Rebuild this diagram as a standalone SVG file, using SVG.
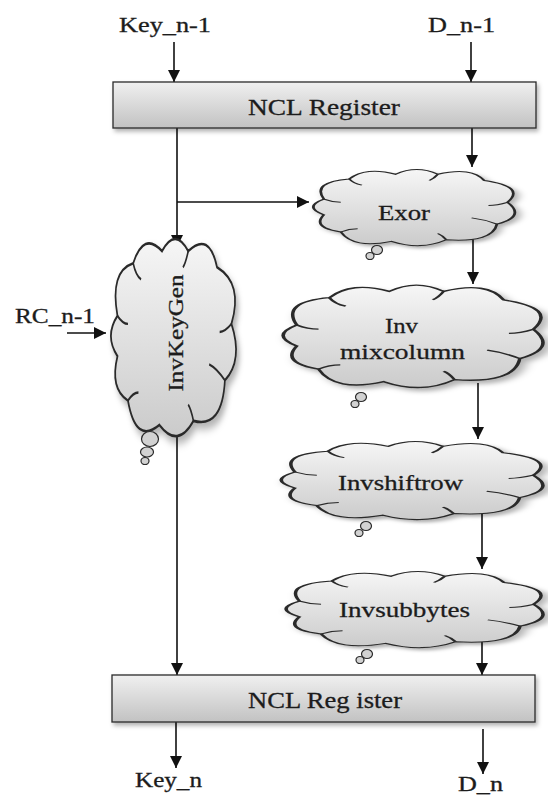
<svg xmlns="http://www.w3.org/2000/svg" width="548" height="796" viewBox="0 0 548 796">
  <defs>
    <linearGradient id="regFill" x1="0" y1="0" x2="0" y2="1">
      <stop offset="0" stop-color="#f0f0f0"/>
      <stop offset="1" stop-color="#c2c2c2"/>
    </linearGradient>
    <linearGradient id="cloudFill" x1="0" y1="0" x2="0" y2="1">
      <stop offset="0" stop-color="#f6f6f6"/>
      <stop offset="1" stop-color="#cbcbcb"/>
    </linearGradient>
    <filter id="shadow" x="-10%" y="-10%" width="130%" height="140%">
      <feDropShadow dx="2" dy="3" stdDeviation="2" flood-color="#000" flood-opacity="0.3"/>
    </filter>
    <marker id="arrow" viewBox="0 0 10 10" refX="10" refY="5" markerWidth="12" markerHeight="12" markerUnits="userSpaceOnUse" orient="auto">
      <path d="M0,0 L10,5 L0,10 Z" fill="#111"/>
    </marker>
    <!-- cloud outline in a 100x100 box; scaled per node -->
    <path id="cloud" d="M8,40 Q2,18 20,14 Q28,-2 42,8 Q52,-4 62,8 Q78,-2 84,16 Q104,24 95,44 Q104,62 90,72 Q88,96 66,92 Q54,106 40,94 Q22,104 16,82 Q2,76 8,60 Q-2,50 8,40 Z"/>
    <g id="creases">
      <path d="M8,40 Q12,44 16,44"/>
      <path d="M20,14 Q22,20 26,22"/>
      <path d="M62,8 Q60,14 58,16"/>
      <path d="M95,44 Q90,48 86,48"/>
      <path d="M90,72 Q84,66 78,64"/>
      <path d="M66,92 Q64,86 62,84"/>
      <path d="M16,82 Q20,78 24,78"/>
    </g>
  </defs>
  <style>
    .lbl { font-family: "Liberation Serif", "Times New Roman", serif; fill: #1c1c1c; stroke: #1c1c1c; stroke-width: 0.3; }
    .reg { fill: url(#regFill); stroke: #2a2a2a; stroke-width: 1.3; filter: url(#shadow); }
    .cl { fill: url(#cloudFill); stroke: #2a2a2a; stroke-width: 1.3; vector-effect: non-scaling-stroke; }
    .cr { fill: none; stroke: #2a2a2a; stroke-width: 1.2; vector-effect: non-scaling-stroke; }
    .bub { fill: #d2d2d2; stroke: #2a2a2a; stroke-width: 1.2; }
    .wire { fill: none; stroke: #111; stroke-width: 1.6; }
    .arr { marker-end: url(#arrow); }
  </style>

  <!-- connectors -->
  <g id="connectors">
    <line class="wire arr" x1="174" y1="42" x2="174" y2="82"/>
    <line class="wire arr" x1="471" y1="42" x2="471" y2="82"/>
    <line class="wire arr" x1="177" y1="128" x2="177" y2="247"/>
    <line class="wire arr" x1="177" y1="202" x2="309" y2="202"/>
    <line class="wire arr" x1="472" y1="128" x2="472" y2="167"/>
    <line class="wire arr" x1="473" y1="238" x2="473" y2="284"/>
    <line class="wire arr" x1="478" y1="383" x2="478" y2="439"/>
    <line class="wire arr" x1="482" y1="514" x2="482" y2="569"/>
    <line class="wire arr" x1="482" y1="640" x2="482" y2="675"/>
    <line class="wire arr" x1="177" y1="432" x2="177" y2="675"/>
    <line class="wire arr" x1="67" y1="333" x2="106" y2="333"/>
    <line class="wire arr" x1="176" y1="722" x2="176" y2="768"/>
    <line class="wire arr" x1="483" y1="729" x2="483" y2="774"/>
  </g>

  <!-- input labels -->
  <g id="inputs">
    <text class="lbl" x="119" y="32" font-size="20" textLength="92" lengthAdjust="spacingAndGlyphs">Key_n-1</text>
    <text class="lbl" x="428" y="32" font-size="20" textLength="67" lengthAdjust="spacingAndGlyphs">D_n-1</text>
    <text class="lbl" x="15" y="323" font-size="20" textLength="80" lengthAdjust="spacingAndGlyphs">RC_n-1</text>
  </g>

  <g id="reg-top">
    <rect class="reg" x="113" y="82" width="423" height="46"/>
    <text class="lbl" x="248" y="115" font-size="24" textLength="152" lengthAdjust="spacingAndGlyphs">NCL Register</text>
  </g>

  <g id="invkeygen">
    <g transform="translate(107,235) scale(1.31,2.02)">
      <use href="#cloud" class="cl" filter="url(#shadow)"/>
      <use href="#creases" class="cr"/>
    </g>
    <ellipse class="bub" cx="150" cy="439" rx="8.5" ry="7.5"/>
    <ellipse class="bub" cx="147" cy="452" rx="6.5" ry="5"/>
    <ellipse class="bub" cx="145" cy="461" rx="4" ry="3.5"/>
    <text class="lbl" transform="translate(183,333) rotate(-90)" x="0" y="0" font-size="22" text-anchor="middle" textLength="117" lengthAdjust="spacingAndGlyphs">InvKeyGen</text>
  </g>

  <g id="exor">
    <g transform="translate(307,168) scale(2.11,0.78)">
      <use href="#cloud" class="cl" filter="url(#shadow)"/>
      <use href="#creases" class="cr"/>
    </g>
    <ellipse class="bub" cx="377" cy="250" rx="5.5" ry="4.5"/>
    <ellipse class="bub" cx="370" cy="256" rx="4" ry="3.5"/>
    <text class="lbl" x="378" y="220" font-size="22" textLength="52" lengthAdjust="spacingAndGlyphs">Exor</text>
  </g>

  <g id="invmixcolumn">
    <g transform="translate(275,283) scale(2.72,1.05)">
      <use href="#cloud" class="cl" filter="url(#shadow)"/>
      <use href="#creases" class="cr"/>
    </g>
    <ellipse class="bub" cx="361" cy="397" rx="5.5" ry="4.5"/>
    <ellipse class="bub" cx="355" cy="404" rx="4" ry="3.5"/>
    <text class="lbl" x="385" y="333" font-size="22" textLength="33" lengthAdjust="spacingAndGlyphs">Inv</text>
    <text class="lbl" x="340" y="359" font-size="22" textLength="125" lengthAdjust="spacingAndGlyphs">mixcolumn</text>
  </g>

  <g id="invshiftrow">
    <g transform="translate(273,440) scale(2.74,0.8)">
      <use href="#cloud" class="cl" filter="url(#shadow)"/>
      <use href="#creases" class="cr"/>
    </g>
    <ellipse class="bub" cx="366" cy="526" rx="5.5" ry="4.5"/>
    <ellipse class="bub" cx="359" cy="533" rx="4" ry="3.5"/>
    <text class="lbl" x="338" y="490" font-size="22" textLength="125" lengthAdjust="spacingAndGlyphs">Invshiftrow</text>
  </g>

  <g id="invsubbytes">
    <g transform="translate(278,570) scale(2.69,0.78)">
      <use href="#cloud" class="cl" filter="url(#shadow)"/>
      <use href="#creases" class="cr"/>
    </g>
    <ellipse class="bub" cx="367" cy="654" rx="5.5" ry="4.5"/>
    <ellipse class="bub" cx="360" cy="660" rx="4" ry="3.5"/>
    <text class="lbl" x="339" y="617" font-size="22" textLength="131" lengthAdjust="spacingAndGlyphs">Invsubbytes</text>
  </g>

  <g id="reg-bottom">
    <rect class="reg" x="112" y="675" width="423" height="47"/>
    <text class="lbl" x="248" y="708" font-size="24" textLength="154" lengthAdjust="spacingAndGlyphs">NCL Reg ister</text>
  </g>

  <g id="outputs">
    <text class="lbl" x="135" y="787" font-size="20" textLength="67" lengthAdjust="spacingAndGlyphs">Key_n</text>
    <text class="lbl" x="458" y="791" font-size="20" textLength="45" lengthAdjust="spacingAndGlyphs">D_n</text>
  </g>
</svg>
